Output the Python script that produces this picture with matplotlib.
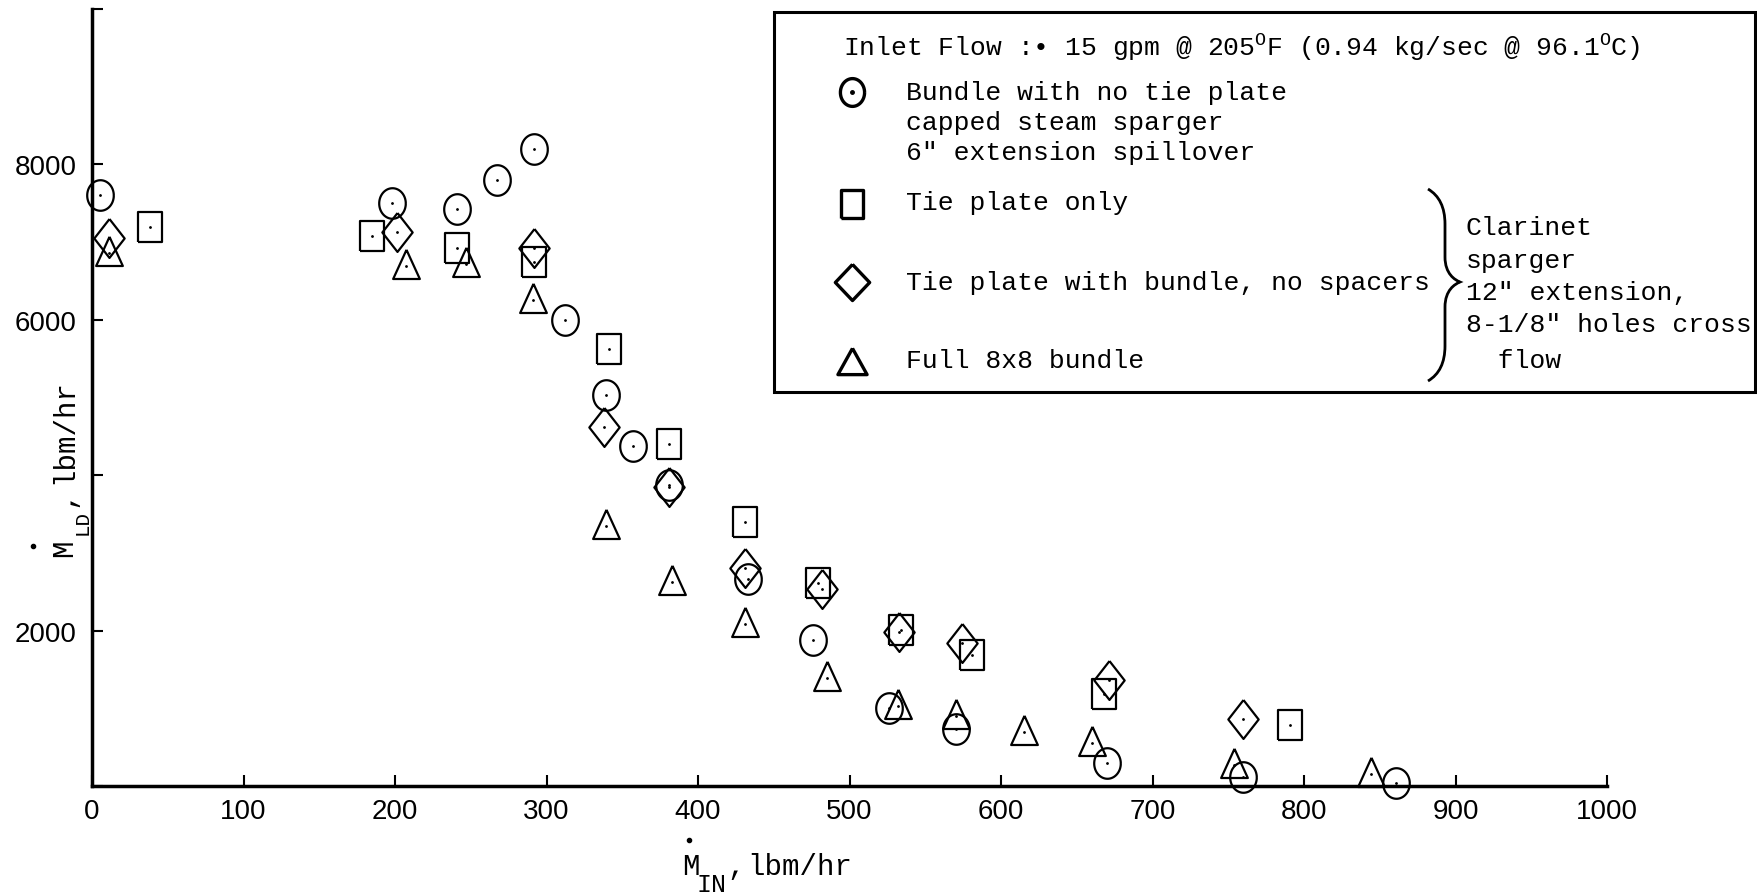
import numpy as np
import matplotlib
matplotlib.use("Agg")
import matplotlib.pyplot as plt
from matplotlib.path import Path
from matplotlib.patches import PathPatch, Rectangle
from matplotlib.lines import Line2D

plt.rcParams['mathtext.fontset'] = 'custom'
plt.rcParams['mathtext.rm'] = 'Liberation Mono'
plt.rcParams['mathtext.it'] = 'Liberation Mono'

# data (lbm/hr)
circ_x = [5, 198, 241, 267, 292, 312, 339, 357, 381, 433, 476, 526, 570, 670, 760, 861]
circ_y = [7600, 7500, 7420, 7800, 8200, 6000, 5030, 4380, 3870, 2670, 1880, 1000, 730, 300, 120, 40]

sq_x = [38, 185, 241, 292, 341, 381, 431, 479, 534, 581, 668, 791]
sq_y = [7190, 7075, 6920, 6745, 5620, 4400, 3400, 2610, 2010, 1690, 1190, 790]

dia_x = [11, 201, 292, 338, 381, 431, 482, 533, 574, 671, 760]
dia_y = [7050, 7135, 6920, 4615, 3850, 2800, 2530, 1980, 1835, 1360, 860]

tri_x = [11, 207, 247, 291, 339, 383, 431, 485, 532, 570, 615, 660, 754, 844]
tri_y = [6860, 6690, 6720, 6260, 3350, 2630, 2080, 1390, 1030, 900, 700, 555, 265, 150]

y_ticks = [0, 2000, 4000, 6000, 8000, 10000]
y_ticklabels = ['', '2000', '', '6000', '8000', '']
x_ticks = list(range(0, 1001, 100))

W, H = 1758, 895

# slightly tall marker shapes, like the template symbols on the scan
t = np.linspace(0, 2 * np.pi, 60)
m_circ = Path(np.column_stack([0.87 * np.cos(t), np.sin(t)]))
m_sq = [(-0.8, -1), (0.8, -1), (0.8, 1), (-0.8, 1), (-0.8, -1)]
m_dia = [(0, 1), (0.78, 0), (0, -1), (-0.78, 0), (0, 1)]
m_tri = [(0, 1), (0.8, -0.75), (-0.8, -0.75), (0, 1)]

styles = [
    (circ_x, circ_y, m_circ, 22),
    (sq_x, sq_y, m_sq, 21),
    (dia_x, dia_y, m_dia, 28),
    (tri_x, tri_y, m_tri, 24),
]

fig = plt.figure(figsize=(W / 100, H / 100), dpi=100)
ax = fig.add_axes([92 / W, 1 - 787 / H, (1607 - 92) / W, (787 - 10) / H])

for xs, ys, mk, ms in styles:
    ax.plot(xs, ys, linestyle='none', marker=mk, markersize=ms,
            markerfacecolor='none', markeredgecolor='black', markeredgewidth=1.6,
            clip_on=False)
    ax.plot(xs, ys, linestyle='none', marker='.', markersize=2, color='black', clip_on=False)

ax.set_xlim(0, 1000)
ax.set_ylim(0, 10000)
ax.spines['top'].set_visible(False)
ax.spines['right'].set_visible(False)
ax.spines['left'].set_linewidth(2.5)
ax.spines['bottom'].set_linewidth(2.5)
ax.set_yticks(y_ticks)
ax.set_yticklabels(y_ticklabels)
ax.set_xticks(x_ticks)
ax.tick_params(direction='in', length=8, width=1.5, labelsize=20)
ax.tick_params(axis='y', pad=11)
ax.tick_params(axis='x', pad=9)
for lab in ax.get_xticklabels() + ax.get_yticklabels():
    lab.set_family(['Liberation Sans', 'DejaVu Sans'])


def fx(px):
    return px / W


def fy(py):
    return 1 - py / H


mono = ['Liberation Mono', 'DejaVu Sans Mono']

# x axis label, M-dot with a large typed subscript
fig.text(fx(682), fy(875), 'M', fontsize=21, family=mono, ha='left', va='baseline')
fig.text(fx(697), fy(892), 'IN', fontsize=18, family=mono, ha='left', va='baseline')
fig.text(fx(727), fy(875), ',', fontsize=21, family=mono, ha='left', va='baseline')
fig.text(fx(747), fy(875), 'lbm/hr', fontsize=21, family=mono, ha='left', va='baseline')
fig.add_artist(Line2D([fx(689)], [fy(841)], transform=fig.transFigure, marker='o',
                      markersize=3, color='black', linestyle='none'))

# y axis label, same pieces rotated
kw = dict(family=mono, ha='left', va='baseline', rotation=90, rotation_mode='anchor')
fig.text(fx(72), fy(557), 'M', fontsize=21, **kw)
fig.text(fx(88), fy(535), 'LD', fontsize=15, **kw)
fig.text(fx(72), fy(507), ',', fontsize=21, **kw)
fig.text(fx(72), fy(484), 'lbm/hr', fontsize=21, **kw)
fig.add_artist(Line2D([fx(33)], [fy(547)], transform=fig.transFigure, marker='o',
                      markersize=3, color='black', linestyle='none'))

# legend box
fig.add_artist(Rectangle((fx(774), fy(393)), fx(1755) - fx(774), fy(13) - fy(393),
                         transform=fig.transFigure, fill=False, lw=2.2, ec='black'))

fig.text(fx(843), fy(48), 'Inlet Flow :\u2022 15 gpm @ 205$^{\\mathrm{O}}$F (0.94 kg/sec @ 96.1$^{\\mathrm{O}}$C)',
         fontsize=19, family=mono, va='center')

leg_rows = [
    (m_circ, 20, 93, ['Bundle with no tie plate', 'capped steam sparger', '6" extension spillover']),
    (m_sq, 20, 205, ['Tie plate only']),
    ([(0, 1), (0.95, 0), (0, -1), (-0.95, 0), (0, 1)], 26, 283, ['Tie plate with bundle, no spacers']),
    ([(0, 0.9), (1, -0.9), (-1, -0.9), (0, 0.9)], 21, 362, ['Full 8x8 bundle']),
]
text_y = [93, 203, 283, 361]
for (mk, ms, yy, lines), ty in zip(leg_rows, text_y):
    fig.add_artist(Line2D([fx(852)], [fy(yy)], transform=fig.transFigure, marker=mk,
                          markersize=ms, markerfacecolor='none', markeredgecolor='black',
                          markeredgewidth=2.4, linestyle='none'))
    for i, s in enumerate(lines):
        fig.text(fx(906), fy(ty + i * 30), s, fontsize=19, family=mono, va='center')
fig.add_artist(Line2D([fx(852)], [fy(93)], transform=fig.transFigure, marker='o',
                      markersize=2.5, color='black', linestyle='none'))

side_text = [('Clarinet', 228), ('sparger', 261), ('12" extension,', 293),
             ('8-1/8" holes cross', 325), ('  flow', 361)]
for s, yy in side_text:
    fig.text(fx(1466), fy(yy), s, fontsize=19, family=mono, va='center')

# curly brace grouping the clarinet sparger cases
xl, xm, xp = 1428, 1445, 1460
yt, ymid, yb = 190, 283, 382
verts = [(xl, yt), (xm, yt + 10), (xm, yt + 35), (xm, ymid - 25),
         (xm, ymid - 8), (xp - 5, ymid - 2), (xp, ymid),
         (xp - 5, ymid + 2), (xm, ymid + 8), (xm, ymid + 25),
         (xm, yb - 35), (xm, yb - 10), (xl, yb)]
codes = [Path.MOVETO, Path.CURVE3, Path.CURVE3, Path.LINETO,
         Path.CURVE4, Path.CURVE4, Path.CURVE4,
         Path.CURVE4, Path.CURVE4, Path.CURVE4,
         Path.LINETO, Path.CURVE3, Path.CURVE3]
brace = Path([(fx(a), fy(b)) for a, b in verts], codes)
fig.add_artist(PathPatch(brace, transform=fig.transFigure, fill=False, lw=2, ec='black'))

fig.savefig('out.png', dpi=100)
